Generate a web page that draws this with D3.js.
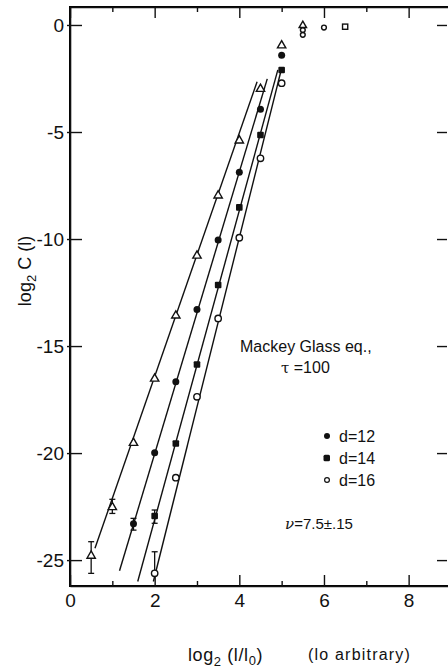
<!DOCTYPE html>
<html>
<head>
<meta charset="utf-8">
<script src="https://cdn.jsdelivr.net/npm/d3@7"></script>
<style>
  html, body { margin: 0; padding: 0; background: #fff; }
  svg { display: block; }
  text { font-family: "Liberation Sans", Arial, sans-serif; fill: #111; }
</style>
</head>
<body>
<svg id="chart" width="448" height="671"></svg>
<script>
// Correlation integral of the Mackey-Glass attractor, log2 C(l) vs log2(l/l0)

const xTicks = [0, 2, 4, 6, 8];
const xMinorTicks = [1, 3, 5, 7];
const yTicks = [0, -5, -10, -15, -20, -25];

// open triangles
const triX = [0.5, 1, 1.5, 2, 2.5, 3, 3.5, 4, 4.5, 5];
const triY = [-24.77, -22.5, -19.5, -16.5, -13.55, -10.75, -7.94, -5.37, -2.96, -0.93];

// d = 12, filled circles
const d12X = [1.5, 2, 2.5, 3, 3.5, 4, 4.5, 5];
const d12Y = [-23.3, -19.98, -16.67, -13.29, -10.05, -6.88, -3.94, -1.42];

// d = 14, filled squares
const d14X = [2, 2.5, 3, 3.5, 4, 4.5, 5];
const d14Y = [-22.94, -19.55, -15.86, -12.15, -8.52, -5.14, -2.1];

// d = 16, open circles
const d16X = [2, 2.5, 3, 3.5, 4, 4.5, 5];
const d16Y = [-25.62, -21.15, -17.37, -13.71, -9.94, -6.23, -2.72];

// saturated points near log2 C = 0
const plateauX = [5.5, 5.5, 5.5, 6, 6.5];
const plateauY = [-0.02, -0.24, -0.46, -0.12, -0.08];
const plateauShape = ["triangle", "circle", "circle", "circle", "square"];

// error bars: x, upper, lower
const errX = [0.5, 1, 1.5, 2, 2];
const errHi = [-24.14, -22.16, -23.05, -22.66, -24.61];
const errLo = [-25.62, -22.82, -23.6, -23.28, -25.62];

// fitted straight lines (end points)
const fitX0 = [0.59, 1.17, 1.6, 1.97];
const fitY0 = [-24.45, -25.5, -26.0, -26.0];
const fitX1 = [4.42, 4.66, 4.91, 5.0];
const fitY1 = [-2.65, -2.52, -2.1, -2.02];

// axis extents
const xDomain = [0, 8.93];
const yDomain = [0.84, -26.21];

const svg = d3.select("#chart");

const x = d3.scaleLinear().domain(xDomain).range([70, 448]);
const y = d3.scaleLinear().domain(yDomain).range([7, 586]);
const frameL = 70, frameT = 7, frameB = 586;

const ink = "#111";

// plot frame (right edge runs just past the page)
svg.append("rect")
  .attr("x", x(xDomain[0])).attr("y", y(yDomain[0]))
  .attr("width", x(xDomain[1]) - x(xDomain[0]) + 4)
  .attr("height", y(yDomain[1]) - y(yDomain[0]))
  .attr("fill", "none").attr("stroke", "#000").attr("stroke-width", 2);

function styleAxis(g) {
  g.select(".domain").attr("stroke", ink).attr("stroke-width", 1.6);
  g.selectAll(".tick line").attr("stroke", ink).attr("stroke-width", 1.4);
}

// bottom axis (ticks inward)
const gxb = svg.append("g").attr("transform", `translate(0,${frameB})`)
  .call(d3.axisBottom(x).tickValues(xTicks).tickSize(-11).tickSizeOuter(0).tickPadding(8)
    .tickFormat(d3.format("d")));
styleAxis(gxb);
gxb.selectAll(".tick text").attr("font-size", 19).attr("fill", ink)
  .attr("font-family", "Liberation Sans, Arial, sans-serif");

const gxbm = svg.append("g").attr("transform", `translate(0,${frameB})`)
  .call(d3.axisBottom(x).tickValues(xMinorTicks).tickSize(-5).tickFormat(""));
gxbm.select(".domain").remove();
styleAxis(gxbm);

// top axis (ticks inward)
const gxt = svg.append("g").attr("transform", `translate(0,${frameT})`)
  .call(d3.axisTop(x).tickValues(xTicks).tickSize(-11).tickSizeOuter(0).tickFormat(""));
styleAxis(gxt);
const gxtm = svg.append("g").attr("transform", `translate(0,${frameT})`)
  .call(d3.axisTop(x).tickValues(xMinorTicks).tickSize(-5).tickFormat(""));
gxtm.select(".domain").remove();
styleAxis(gxtm);

// left axis
const gyl = svg.append("g").attr("transform", `translate(${frameL},0)`)
  .call(d3.axisLeft(y).tickValues(yTicks).tickSize(-12).tickSizeOuter(0).tickPadding(6)
    .tickFormat(d => d === 0 ? "0" : "-" + Math.abs(d)));
styleAxis(gyl);
gyl.selectAll(".tick line").attr("x1", -3);
gyl.selectAll(".tick text").attr("font-size", 19).attr("fill", ink)
  .attr("font-family", "Liberation Sans, Arial, sans-serif").attr("dy", "0.36em");

// right axis (tick marks only)
const gyr = svg.append("g").attr("transform", `translate(447,0)`)
  .call(d3.axisRight(y).tickValues(yTicks).tickSize(-10).tickFormat(""));
gyr.select(".domain").remove();
styleAxis(gyr);

// fitted lines
const fits = d3.range(fitX0.length).map(i => ({x0: fitX0[i], y0: fitY0[i], x1: fitX1[i], y1: fitY1[i]}));
svg.append("g").selectAll("line").data(fits).join("line")
  .attr("x1", d => x(d.x0)).attr("y1", d => y(d.y0))
  .attr("x2", d => x(d.x1)).attr("y2", d => y(d.y1))
  .attr("stroke", ink).attr("stroke-width", 1.4);

// error bars
const errs = d3.range(errX.length).map(i => ({x: errX[i], hi: errHi[i], lo: errLo[i]}));
const ge = svg.append("g").attr("stroke", ink).attr("stroke-width", 1.3);
ge.selectAll("line.v").data(errs).join("line").attr("class", "v")
  .attr("x1", d => x(d.x)).attr("x2", d => x(d.x))
  .attr("y1", d => y(d.hi)).attr("y2", d => y(d.lo));
ge.selectAll("line.hi").data(errs).join("line").attr("class", "hi")
  .attr("x1", d => x(d.x) - 3).attr("x2", d => x(d.x) + 3)
  .attr("y1", d => y(d.hi)).attr("y2", d => y(d.hi));
ge.selectAll("line.lo").data(errs).join("line").attr("class", "lo")
  .attr("x1", d => x(d.x) - 3).attr("x2", d => x(d.x) + 3)
  .attr("y1", d => y(d.lo)).attr("y2", d => y(d.lo));

const zip = (xs, ys) => xs.map((v, i) => ({x: v, y: ys[i]}));
const triSym = d3.symbol().type(d3.symbolTriangle).size(30);

// open triangles
svg.append("g").selectAll("path").data(zip(triX, triY)).join("path")
  .attr("d", triSym)
  .attr("transform", d => `translate(${x(d.x)},${y(d.y) + 0.6})`)
  .attr("fill", "#fff").attr("stroke", ink).attr("stroke-width", 1.4);

// d = 12
svg.append("g").selectAll("circle").data(zip(d12X, d12Y)).join("circle")
  .attr("cx", d => x(d.x)).attr("cy", d => y(d.y)).attr("r", 3.5)
  .attr("fill", ink);

// d = 14
svg.append("g").selectAll("rect").data(zip(d14X, d14Y)).join("rect")
  .attr("x", d => x(d.x) - 3.3).attr("y", d => y(d.y) - 3.3)
  .attr("width", 6.6).attr("height", 6.6).attr("rx", 1)
  .attr("fill", ink);

// d = 16
svg.append("g").selectAll("circle").data(zip(d16X, d16Y)).join("circle")
  .attr("cx", d => x(d.x)).attr("cy", d => y(d.y)).attr("r", 3.2)
  .attr("fill", "#fff").attr("stroke", ink).attr("stroke-width", 1.4);

// plateau points
const plateau = plateauX.map((v, i) => ({x: v, y: plateauY[i], s: plateauShape[i]}));
const gp = svg.append("g").attr("fill", "#fff").attr("stroke", ink).attr("stroke-width", 1.4);
plateau.forEach(d => {
  if (d.s === "triangle") {
    gp.append("path").attr("d", d3.symbol().type(d3.symbolTriangle).size(24)())
      .attr("transform", `translate(${x(d.x)},${y(d.y)})`);
  } else if (d.s === "circle") {
    gp.append("circle").attr("cx", x(d.x)).attr("cy", y(d.y)).attr("r", 2.4);
  } else {
    gp.append("rect").attr("x", x(d.x) - 2.6).attr("y", y(d.y) - 2.6)
      .attr("width", 5.2).attr("height", 5.2);
  }
});

// annotations
svg.append("text").attr("x", 240).attr("y", 352).attr("font-size", 16).text("Mackey  Glass  eq.,");
const tau = svg.append("text").attr("x", 281).attr("y", 373).attr("font-size", 16);
tau.append("tspan").attr("font-family", "DejaVu Serif, serif").attr("font-size", 15).text("τ");
tau.append("tspan").text(" =100");

// legend
const legendLabels = ["d=12", "d=14", "d=16"];
const legendY = [436, 458, 480];
legendLabels.forEach((lab, i) => {
  const cy = legendY[i];
  if (i === 0) {
    svg.append("circle").attr("cx", 327).attr("cy", cy).attr("r", 3).attr("fill", ink);
  } else if (i === 1) {
    svg.append("rect").attr("x", 323.5).attr("y", cy - 3.2).attr("width", 6.5).attr("height", 6.5)
      .attr("rx", 1.5).attr("fill", ink);
  } else {
    svg.append("circle").attr("cx", 327).attr("cy", cy).attr("r", 2.4)
      .attr("fill", "#fff").attr("stroke", ink).attr("stroke-width", 1.2);
  }
  svg.append("text").attr("x", 339).attr("y", cy + 5.5).attr("font-size", 16).text(lab);
});

const nu = svg.append("text").attr("x", 285).attr("y", 529).attr("font-size", 15);
nu.append("tspan").attr("font-style", "italic").attr("font-family", "DejaVu Serif, serif").text("ν");
nu.append("tspan").text("=7.5±.15");

// axis titles
const yl = svg.append("text")
  .attr("transform", "translate(31,271) rotate(-90)")
  .attr("text-anchor", "middle").attr("font-size", 18);
yl.append("tspan").text("log");
yl.append("tspan").attr("font-size", 13).attr("dy", 5).text("2");
yl.append("tspan").attr("dy", -5).text(" C (l)");

const xl = svg.append("text").attr("x", 188).attr("y", 661).attr("font-size", 18).attr("letter-spacing", 0.6);
xl.append("tspan").text("log");
xl.append("tspan").attr("font-size", 13).attr("dy", 5).text("2");
xl.append("tspan").attr("dy", -5).text(" (l/l");
xl.append("tspan").attr("font-size", 13).attr("dy", 4).text("0");
xl.append("tspan").attr("dy", -4).text(")");

svg.append("text").attr("x", 308).attr("y", 660).attr("font-size", 16).attr("letter-spacing", 1.2)
  .text("(lo arbitrary)");
</script>
</body>
</html>
